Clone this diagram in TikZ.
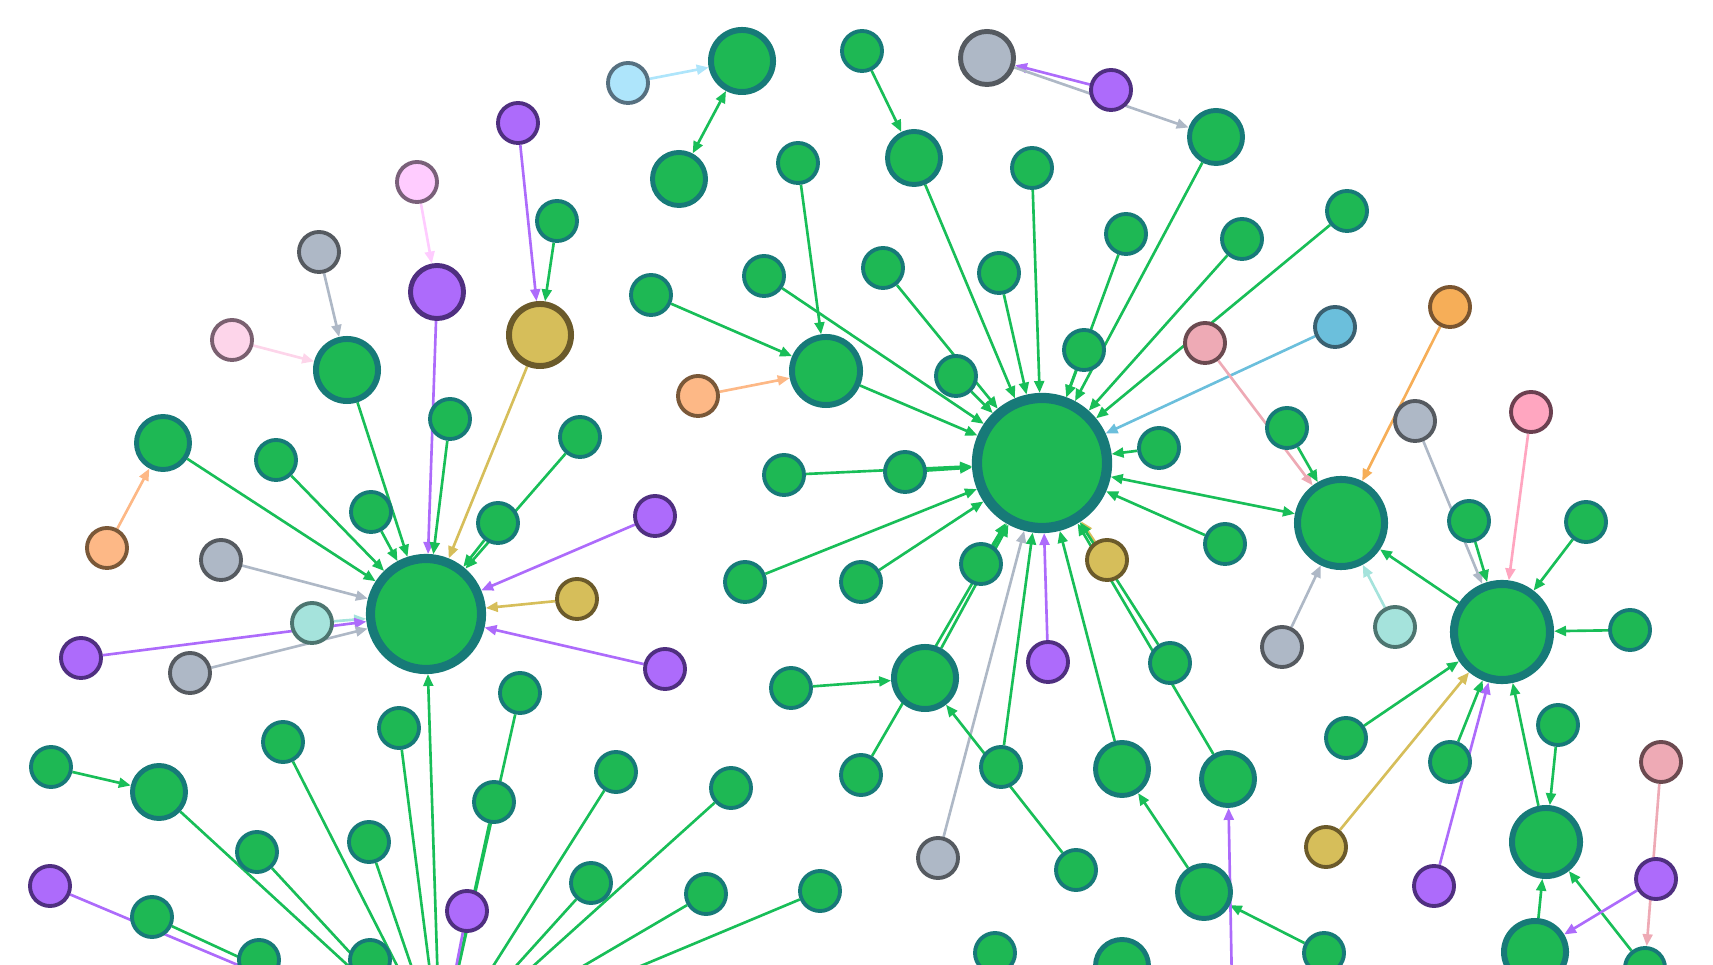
\documentclass[tikz,border=0pt]{standalone}
\usepackage{tikz}
\usetikzlibrary{arrows.meta,backgrounds}

\definecolor{gFill}{RGB}{30,184,84}
\definecolor{gLine}{RGB}{23,122,120}
\definecolor{gEdge}{RGB}{24,190,88}
\definecolor{pFill}{RGB}{173,107,251}
\definecolor{pLine}{RGB}{79,47,128}
\definecolor{grFill}{RGB}{174,184,198}
\definecolor{grLine}{RGB}{85,90,96}
\definecolor{yFill}{RGB}{214,190,90}
\definecolor{yLine}{RGB}{107,90,42}
\definecolor{oFill}{RGB}{246,174,88}
\definecolor{oLine}{RGB}{122,85,48}
\definecolor{loFill}{RGB}{253,184,134}
\definecolor{loLine}{RGB}{122,88,56}
\definecolor{lbFill}{RGB}{174,229,251}
\definecolor{lbLine}{RGB}{86,112,128}
\definecolor{bFill}{RGB}{107,191,220}
\definecolor{bLine}{RGB}{58,96,112}
\definecolor{pkFill}{RGB}{238,170,181}
\definecolor{pkLine}{RGB}{107,74,80}
\definecolor{rFill}{RGB}{255,166,192}
\definecolor{rLine}{RGB}{107,64,80}
\definecolor{liFill}{RGB}{255,204,255}
\definecolor{liLine}{RGB}{122,96,122}
\definecolor{lpFill}{RGB}{253,213,234}
\definecolor{lpLine}{RGB}{122,96,112}
\definecolor{tFill}{RGB}{165,227,220}
\definecolor{tLine}{RGB}{77,117,112}

\tikzset{
  dot/.style={circle, inner sep=0pt},
  sm/.style={dot, minimum size=0.40cm, line width=1.1pt},
  md/.style={dot, minimum size=0.53cm, line width=1.4pt},
  lg/.style={dot, minimum size=0.62cm, line width=1.7pt},
  xl/.style={dot, minimum size=0.68cm, line width=1.7pt},
  grn/.style={fill=gFill, draw=gLine},
  pur/.style={fill=pFill, draw=pLine},
  gry/.style={fill=grFill, draw=grLine},
  ylw/.style={fill=yFill, draw=yLine},
  org/.style={fill=oFill, draw=oLine},
  lorg/.style={fill=loFill, draw=loLine},
  lblu/.style={fill=lbFill, draw=lbLine},
  blu/.style={fill=bFill, draw=bLine},
  pnk/.style={fill=pkFill, draw=pkLine},
  ros/.style={fill=rFill, draw=rLine},
  lil/.style={fill=liFill, draw=liLine},
  lpk/.style={fill=lpFill, draw=lpLine},
  tea/.style={fill=tFill, draw=tLine},
  link/.style={line width=0.75pt, draw=#1, ->},
  link/.default=gEdge,
}

\begin{document}
\begin{tikzpicture}[x=0.01cm, y=-0.01cm, >={Triangle[length=3.4pt,width=2.8pt]}]
  \useasboundingbox (0,0) rectangle (1713,965);
  \clip (0,0) rectangle (1713,965);

  % hubs
  \node[dot, minimum size=1.11cm, line width=2.6pt, grn] (hubA) at (426,614) {};
  \node[dot, minimum size=1.30cm, line width=2.9pt, grn] (hubB) at (1042,463) {};
  \node[dot, minimum size=0.87cm, line width=2.0pt, grn] (hubC) at (1341,523) {};
  \node[dot, minimum size=0.96cm, line width=2.3pt, grn] (hubD) at (1502,632) {};
  \node[dot, minimum size=1.11cm, line width=2.6pt, grn] (hubE) at (440,1050) {};
  \coordinate (offP) at (1233,1040);

  % top left
  \node[sm, lblu] (lb1) at (628,83) {};
  \node[lg, grn] (g1) at (742,61) {};
  \node[md, grn] (g2) at (679,179) {};
  \node[sm, pur] (p1) at (518,123) {};
  \node[sm, grn] (g3) at (557,221) {};
  \node[lg, ylw] (y1) at (540,335) {};
  \node[sm, lil] (pk1) at (417,182) {};
  \node[md, pur] (p2) at (437,292) {};
  \node[sm, gry] (gr1) at (319,252) {};
  \node[sm, lpk] (pk2) at (232,340) {};
  \node[lg, grn] (g4) at (347,370) {};
  \node[md, grn] (g5) at (163,443) {};
  \node[sm, grn] (g6) at (276,460) {};
  \node[sm, grn] (g7) at (450,419) {};
  \node[sm, grn] (g8) at (371,512) {};
  \node[sm, grn] (g9) at (580,437) {};
  \node[sm, grn] (g10) at (498,523) {};
  \node[sm, lorg] (o1) at (107,548) {};
  \node[sm, gry] (gr2) at (221,560) {};
  \node[sm, pur] (p3) at (655,516) {};
  \node[sm, ylw] (y2) at (577,599) {};
  \node[sm, tea] (t1) at (312,623) {};
  \node[sm, pur] (p4) at (81,658) {};
  \node[sm, gry] (gr3) at (190,673) {};
  \node[sm, pur] (p5) at (665,669) {};

  % top middle
  \node[sm, grn] (g11) at (862,51) {};
  \node[md, grn] (g12) at (914,158) {};
  \node[md, gry] (gr4) at (987,58) {};
  \node[sm, pur] (p6) at (1111,90) {};
  \node[md, grn] (g13) at (1216,137) {};
  \node[sm, grn] (g14) at (798,163) {};
  \node[sm, grn] (g15) at (1032,168) {};
  \node[sm, grn] (g16) at (651,295) {};
  \node[sm, grn] (g17) at (764,276) {};
  \node[sm, grn] (g18) at (883,268) {};
  \node[sm, grn] (g19) at (999,273) {};
  \node[sm, grn] (g20) at (1126,234) {};
  \node[sm, grn] (g21) at (1242,239) {};
  \node[sm, grn] (g22) at (1347,211) {};
  \node[sm, lorg] (o2) at (698,396) {};
  \node[xl, grn] (g23) at (826,371) {};
  \node[sm, grn] (g24) at (956,376) {};
  \node[sm, grn] (g25) at (1084,350) {};
  \node[sm, pnk] (pk3) at (1205,343) {};
  \node[sm, blu] (b1) at (1335,327) {};
  \node[sm, org] (o3) at (1450,307) {};
  \node[sm, grn] (g26) at (784,475) {};
  \node[sm, grn] (g27) at (905,472) {};
  \node[sm, grn] (g28) at (1159,448) {};
  \node[sm, grn] (g29) at (745,582) {};
  \node[sm, grn] (g30) at (861,582) {};
  \node[sm, grn] (g31) at (981,564) {};
  \node[sm, ylw] (y3) at (1107,560) {};
  \node[sm, grn] (g32) at (1225,544) {};
  \node[sm, pur] (p7) at (1048,662) {};
  \node[sm, grn] (g33) at (1170,663) {};

  % right
  \node[sm, gry] (gr5) at (1415,421) {};
  \node[sm, ros] (pk4) at (1531,412) {};
  \node[sm, grn] (g34) at (1287,428) {};
  \node[sm, grn] (g35) at (1469,521) {};
  \node[sm, grn] (g36) at (1586,522) {};
  \node[sm, grn] (g37) at (1630,630) {};
  \node[sm, tea] (t2) at (1395,627) {};
  \node[sm, gry] (gr6) at (1282,647) {};

  % lower middle and right
  \node[lg, grn] (g38) at (925,678) {};
  \node[sm, grn] (g39) at (791,688) {};
  \node[sm, grn] (g40) at (861,775) {};
  \node[sm, gry] (gr7) at (938,858) {};
  \node[sm, grn] (g41) at (1001,767) {};
  \node[sm, grn] (g42) at (1076,870) {};
  \node[md, grn] (g43) at (1122,769) {};
  \node[md, grn] (g44) at (1228,779) {};
  \node[md, grn] (g45) at (1204,892) {};
  \node[sm, grn] (g46) at (995,953) {};
  \node[md, grn] (g47) at (1122,966) {};
  \node[sm, grn] (g48) at (1324,953) {};
  \node[sm, grn] (g49) at (1346,738) {};
  \node[sm, grn] (g50) at (1450,762) {};
  \node[sm, ylw] (y4) at (1326,847) {};
  \node[sm, pur] (p8) at (1434,886) {};
  \node[sm, grn] (g51) at (1558,725) {};
  \node[xl, grn] (g52) at (1546,842) {};
  \node[sm, pnk] (pk5) at (1661,762) {};
  \node[sm, pur] (p9) at (1656,879) {};
  \node[lg, grn] (g53) at (1535,952) {};
  \node[sm, grn] (g54) at (1645,968) {};

  % lower left
  \node[sm, grn] (g55) at (520,693) {};
  \node[sm, grn] (g57) at (51,767) {};
  \node[md, grn] (g58) at (159,792) {};
  \node[sm, grn] (g59) at (283,742) {};
  \node[sm, grn] (g60) at (399,728) {};
  \node[sm, grn] (g61) at (257,852) {};
  \node[sm, grn] (g62) at (369,842) {};
  \node[sm, pur] (p10) at (50,886) {};
  \node[sm, grn] (g63) at (152,917) {};
  \node[sm, grn] (g64) at (259,960) {};
  \node[sm, grn] (g65) at (370,960) {};
  \node[sm, grn] (g66) at (494,802) {};
  \node[sm, grn] (g67) at (616,772) {};
  \node[sm, grn] (g68) at (731,788) {};
  \node[sm, pur] (p11) at (467,911) {};
  \node[sm, grn] (g69) at (591,883) {};
  \node[sm, grn] (g70) at (706,894) {};
  \node[sm, grn] (g71) at (820,891) {};

  \begin{pgfonlayer}{background}
    \clip (0,0) rectangle (1713,965);
    % small pairs
    \draw[link=lbFill] (lb1) -- (g1);
    \draw[link, <->] (g1) -- (g2);
    \draw[link=pFill] (p1) -- (y1);
    \draw[link] (g3) -- (y1);
    \draw[link=liFill] (pk1) -- (p2);
    \draw[link=grFill] (gr1) -- (g4);
    \draw[link=lpFill] (pk2) -- (g4);
    \draw[link] (g11) -- (g12);
    \draw[link=pFill] (p6) -- (gr4);
    \draw[link=grFill] (gr4) -- (g13);
    \draw[link=loFill] (o1) -- (g5);
    % into hubA
    \draw[link] (g4) -- (hubA);
    \draw[link=pFill] (p2) -- (hubA);
    \draw[link=yFill] (y1) -- (hubA);
    \draw[link] (g7) -- (hubA);
    \draw[link] (g9) -- (hubA);
    \draw[link] (g10) -- (hubA);
    \draw[link] (g8) -- (hubA);
    \draw[link] (g6) -- (hubA);
    \draw[link] (g5) -- (hubA);
    \draw[link=grFill] (gr2) -- (hubA);
    \draw[link=tFill] (t1) -- (hubA);
    \draw[link=pFill] (p4) -- (hubA);
    \draw[link=grFill] (gr3) -- (hubA);
    \draw[link=pFill] (p3) -- (hubA);
    \draw[link=yFill] (y2) -- (hubA);
    \draw[link=pFill] (p5) -- (hubA);
    \draw[link] (hubE) -- (hubA);
    % into hubB
    \draw[link] (g16) -- (g23);
    \draw[link] (g14) -- (g23);
    \draw[link=loFill] (o2) -- (g23);
    \draw[link] (g23) -- (hubB);
    \draw[link] (g12) -- (hubB);
    \draw[link] (g15) -- (hubB);
    \draw[link] (g18) -- (hubB);
    \draw[link] (g24) -- (hubB);
    \draw[link] (g19) -- (hubB);
    \draw[link] (g17) -- (hubB);
    \draw[link] (g26) -- (hubB);
    \draw[link] (g27) -- (hubB);
    \draw[link] (g29) -- (hubB);
    \draw[link] (g30) -- (hubB);
    \draw[link] (g31) -- (hubB);
    \draw[link] (g38) -- (hubB);
    \draw[link] (g40) -- (hubB);
    \draw[link=grFill] (gr7) -- (hubB);
    \draw[link] (g41) -- (hubB);
    \draw[link=pFill] (p7) -- (hubB);
    \draw[link] (g43) -- (hubB);
    \draw[link=yFill] (y3) -- (hubB);
    \draw[link] (g33) -- (hubB);
    \draw[link] (g44) -- (hubB);
    \draw[link] (g32) -- (hubB);
    \draw[link] (g28) -- (hubB);
    \draw[link, <->] (hubB) -- (hubC);
    \draw[link] (g25) -- (hubB);
    \draw[link] (g20) -- (hubB);
    \draw[link] (g13) -- (hubB);
    \draw[link] (g21) -- (hubB);
    \draw[link] (g22) -- (hubB);
    \draw[link=bFill] (b1) -- (hubB);
    % into hubC
    \draw[link=pkFill] (pk3) -- (hubC);
    \draw[link] (g34) -- (hubC);
    \draw[link=oFill] (o3) -- (hubC);
    \draw[link=grFill] (gr6) -- (hubC);
    \draw[link=tFill] (t2) -- (hubC);
    \draw[link] (hubD) -- (hubC);
    % into hubD
    \draw[link=grFill] (gr5) -- (hubD);
    \draw[link] (g35) -- (hubD);
    \draw[link=rFill] (pk4) -- (hubD);
    \draw[link] (g36) -- (hubD);
    \draw[link] (g37) -- (hubD);
    \draw[link] (g49) -- (hubD);
    \draw[link=yFill] (y4) -- (hubD);
    \draw[link] (g50) -- (hubD);
    \draw[link=pFill] (p8) -- (hubD);
    \draw[link] (g52) -- (hubD);
    % lower right
    \draw[link] (g51) -- (g52);
    \draw[link] (g53) -- (g52);
    \draw[link] (g54) -- (g52);
    \draw[link=pFill] (p9) -- (g53);
    \draw[link=pkFill] (pk5) -- (g54);
    \draw[link] (g48) -- (g45);
    \draw[link] (g45) -- (g43);
    \draw[link=pFill] (offP) -- (g44);
    \draw[link] (g42) -- (g38);
    \draw[link] (g39) -- (g38);
    \draw[link] (g57) -- (g58);
    % into hubE
    \draw[link] (g58) -- (hubE);
    \draw[link] (g61) -- (hubE);
    \draw[link] (g59) -- (hubE);
    \draw[link] (g62) -- (hubE);
    \draw[link] (g60) -- (hubE);
    \draw[link] (g55) -- (hubE);
    \draw[link] (g66) -- (hubE);
    \draw[link=pFill] (p11) -- (hubE);
    \draw[link] (g67) -- (hubE);
    \draw[link] (g68) -- (hubE);
    \draw[link] (g69) -- (hubE);
    \draw[link] (g70) -- (hubE);
    \draw[link] (g71) -- (hubE);
    \draw[link] (g63) -- (hubE);
    \draw[link=pFill] (p10) -- (hubE);
  \end{pgfonlayer}
\end{tikzpicture}
\end{document}
